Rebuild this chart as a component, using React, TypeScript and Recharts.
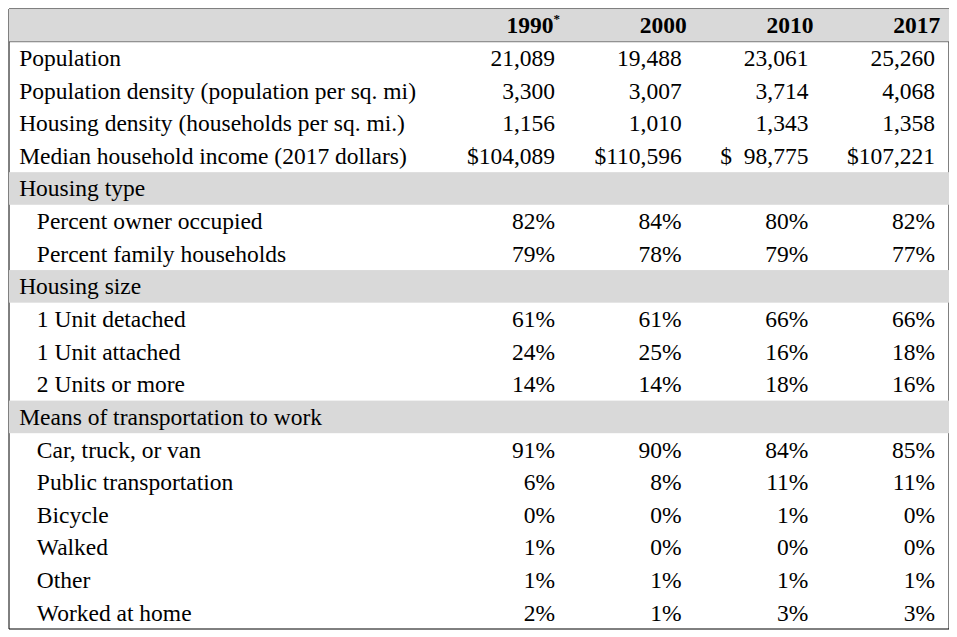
import { ReferenceArea, ReferenceLine, Scatter, ScatterChart, XAxis, YAxis } from "recharts";

const years = ["1990", "2000", "2010", "2017"];

// kind: "row" = plain row, "section" = shaded heading, "sub" = indented row
const rowLabels = [
  "Population",
  "Population density (population per sq. mi)",
  "Housing density (households per sq. mi.)",
  "Median household income (2017 dollars)",
  "Housing type",
  "Percent owner occupied",
  "Percent family households",
  "Housing size",
  "1 Unit detached",
  "1 Unit attached",
  "2 Units or more",
  "Means of transportation to work",
  "Car, truck, or van",
  "Public transportation",
  "Bicycle",
  "Walked",
  "Other",
  "Worked at home",
];
const rowKinds = [
  "row", "row", "row", "row",
  "section", "sub", "sub",
  "section", "sub", "sub", "sub",
  "section", "sub", "sub", "sub", "sub", "sub", "sub",
];
const values1990 = ["21,089", "3,300", "1,156", "$104,089", "", "82%", "79%", "", "61%", "24%", "14%", "", "91%", "6%", "0%", "1%", "1%", "2%"];
const values2000 = ["19,488", "3,007", "1,010", "$110,596", "", "84%", "78%", "", "61%", "25%", "14%", "", "90%", "8%", "0%", "0%", "1%", "1%"];
const values2010 = ["23,061", "3,714", "1,343", "$  98,775", "", "80%", "79%", "", "66%", "16%", "18%", "", "84%", "11%", "1%", "0%", "1%", "3%"];
const values2017 = ["25,260", "4,068", "1,358", "$107,221", "", "82%", "77%", "", "66%", "18%", "16%", "", "85%", "11%", "0%", "0%", "1%", "3%"];

const columns = [values1990, values2000, values2010, values2017];
const X_MIN = -4.31;
const X_MAX = 3.11;
const ROW_H = 32.6;
const FONT = "'Liberation Serif', 'Times New Roman', serif";

const cells = columns.flatMap((col, i) =>
  col.map((v, r) => ({ x: i, y: r, text: v })).filter((c) => c.text)
);
const labels = rowLabels.map((t, r) => ({
  x: rowKinds[r] === "sub" ? -4.09 : -4.23,
  y: r,
  text: t,
}));
const headers = years.map((t, i) => ({ x: i + 0.04, y: -1, text: t }));
const bands = rowKinds
  .map((k, r) => ({ x: X_MIN, y: r, k }))
  .filter((b) => b.k === "section")
  .concat([{ x: X_MIN, y: -1, k: "header" }]);

const Band = (p: any) => (
  <rect x={p.cx} y={p.cy - ROW_H / 2} width={940} height={ROW_H} fill="#d9d9d9" />
);
const Cell = (anchor: string, bold = false) => (p: any) => (
  <text
    x={p.cx}
    y={p.cy + 8}
    textAnchor={anchor}
    fontFamily={FONT}
    fontSize={23.5}
    fontWeight={bold ? "bold" : "normal"}
    fill="#000"
    style={{ whiteSpace: "pre" }}
  >
    {p.payload.text}
    {bold && p.payload.text === "1990" ? (
      <tspan fontSize={13} dy={-10}>*</tspan>
    ) : null}
  </text>
);

export default function App() {
  return (
    <ScatterChart width={949} height={629} margin={{ top: 1, right: 8, bottom: 8, left: 1 }}>
      <XAxis type="number" dataKey="x" domain={[X_MIN, X_MAX]} hide allowDataOverflow />
      <YAxis type="number" dataKey="y" domain={[-1.5, 17.5]} reversed hide allowDataOverflow />
      <Scatter data={bands} shape={Band} isAnimationActive={false} />
      <Scatter data={labels} shape={Cell("start")} isAnimationActive={false} />
      <Scatter data={cells} shape={Cell("end")} isAnimationActive={false} />
      <Scatter data={headers} shape={Cell("end", true)} isAnimationActive={false} />
      <ReferenceLine y={-0.5} stroke="#000" strokeWidth={1} />
      <ReferenceArea x1={X_MIN} x2={X_MAX} y1={-1.5} y2={17.5} fill="none" stroke="#000" strokeWidth={1} />
    </ScatterChart>
  );
}
